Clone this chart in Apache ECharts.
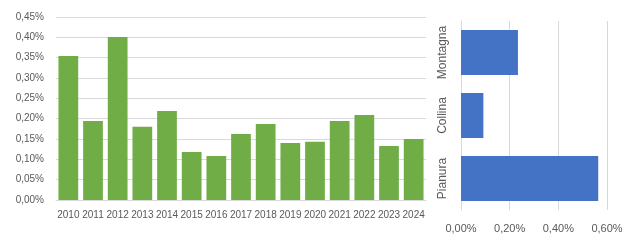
<!DOCTYPE html>
<html><head><meta charset="utf-8">
<script src="https://cdn.jsdelivr.net/npm/echarts@6/dist/echarts.min.js"></script>
<style>html,body{margin:0;padding:0;background:#fff}#c{width:630px;height:240px}</style>
</head><body><div id="c"></div>
<script>
const years = ['2010','2011','2012','2013','2014','2015','2016','2017','2018','2019','2020','2021','2022','2023','2024'];
const yearValues = [0.354,0.194,0.401,0.180,0.219,0.118,0.108,0.162,0.187,0.140,0.143,0.194,0.209,0.133,0.150];
const zones = ['Pianura','Collina','Montagna'];
const zoneValues = [0.564,0.092,0.234];

const fmt = v => v.toFixed(2).replace('.', ',') + '%';
const txt = {color:'#595959', fontFamily:'Liberation Sans', fontSize:10};
const chart = echarts.init(document.getElementById('c'), null, {renderer:'canvas'});
chart.setOption({
  animation:false,
  grid:[
    {left:56, top:17, width:370, height:183},
    {left:461, top:21, width:146, height:189}
  ],
  xAxis:[
    {gridIndex:0, type:'category', data:years,
     axisLine:{lineStyle:{color:'#d9d9d9'}}, axisTick:{show:false},
     axisLabel:Object.assign({interval:0, margin:10}, txt)},
    {gridIndex:1, type:'value', min:0, max:0.6, interval:0.2,
     axisLine:{show:false}, axisTick:{show:false},
     splitLine:{lineStyle:{color:'#d9d9d9'}},
     axisLabel:Object.assign({margin:13, formatter:fmt}, txt, {fontSize:11})}
  ],
  yAxis:[
    {gridIndex:0, type:'value', min:0, max:0.45, interval:0.05,
     axisLine:{show:false}, axisTick:{show:false},
     splitLine:{lineStyle:{color:'#d9d9d9'}},
     axisLabel:Object.assign({margin:12, formatter:fmt}, txt)},
    {gridIndex:1, type:'category', data:zones,
     axisLine:{show:true, lineStyle:{color:'#d9d9d9'}}, axisTick:{show:false},
     axisLabel:Object.assign({rotate:90, margin:12, interval:0, hideOverlap:false}, txt, {fontSize:12})}
  ],
  series:[
    {type:'bar', xAxisIndex:0, yAxisIndex:0, data:yearValues, barCategoryGap:'20%',
     itemStyle:{color:'#70ad47'}},
    {type:'bar', xAxisIndex:1, yAxisIndex:1, data:zoneValues, barCategoryGap:'28.6%',
     itemStyle:{color:'#4472c4'}}
  ]
});
</script></body></html>
